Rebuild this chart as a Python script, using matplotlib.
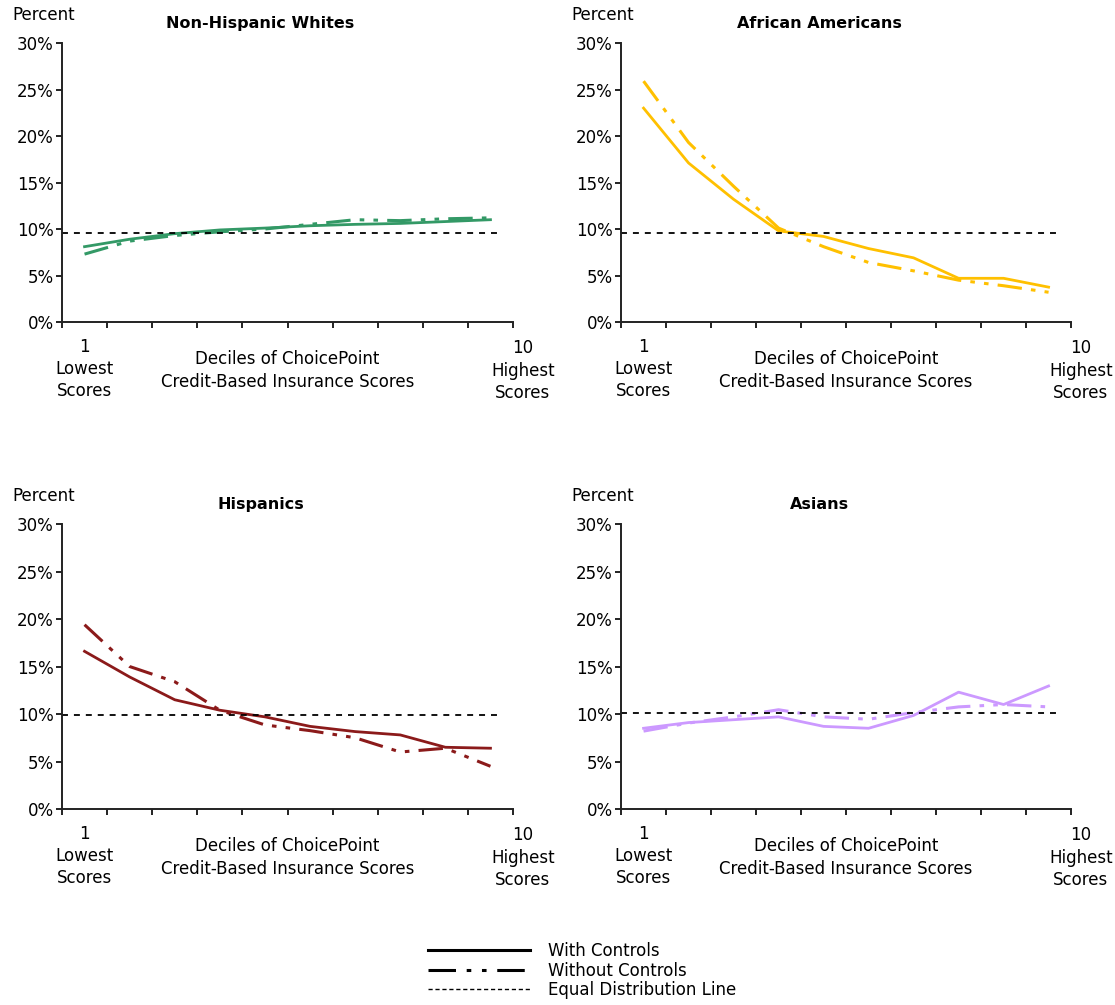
import numpy as np
import matplotlib
matplotlib.use("Agg")
from matplotlib import pyplot as plt
from matplotlib.lines import Line2D

# deciles of ChoicePoint credit-based insurance scores
deciles = np.arange(1, 11)

titles = ['Non-Hispanic Whites', 'African Americans', 'Hispanics', 'Asians']
colors = ['#339966', '#FFC000', '#8B1A1A', '#CC99FF']

# percent of each group falling in each decile
whites_with = [8.1, 8.9, 9.5, 9.9, 10.1, 10.35, 10.5, 10.6, 10.8, 11.0]
whites_without = [7.3, 8.7, 9.3, 9.7, 10.0, 10.5, 11.0, 10.9, 11.1, 11.2]
afam_with = [23.0, 17.1, 13.2, 9.8, 9.2, 7.9, 6.9, 4.7, 4.7, 3.75]
afam_without = [25.9, 19.3, 14.6, 10.1, 8.1, 6.4, 5.5, 4.5, 3.9, 3.2]
hisp_with = [16.6, 13.9, 11.5, 10.4, 9.7, 8.7, 8.15, 7.8, 6.5, 6.4]
hisp_without = [19.4, 15.0, 13.4, 10.4, 8.85, 8.25, 7.5, 6.0, 6.4, 4.5]
asian_with = [8.5, 9.1, 9.4, 9.7, 8.7, 8.5, 9.85, 12.3, 11.0, 12.95]
asian_without = [8.2, 9.05, 9.7, 10.45, 9.7, 9.45, 10.15, 10.75, 11.0, 10.75]

# equal distribution line for each group
equal_line = [9.6, 9.6, 9.9, 10.1]

with_series = [whites_with, afam_with, hisp_with, asian_with]
without_series = [whites_without, afam_without, hisp_without, asian_without]

yticks = [0, 5, 10, 15, 20, 25, 30]
ytick_labels = ['0%', '5%', '10%', '15%', '20%', '25%', '30%']

plt.rcParams['font.family'] = 'DejaVu Sans'
plt.rcParams['font.size'] = 12

dashdotdot = (0, (8, 3, 1.5, 3, 1.5, 3))
equal_dash = (0, (3.3, 3.3))

fig = plt.figure(figsize=(11.15, 10.05), dpi=100)

rects = [
    [0.0556, 0.6796, 0.4045, 0.2776],
    [0.557, 0.6796, 0.4036, 0.2776],
    [0.0556, 0.195, 0.4045, 0.2836],
    [0.557, 0.195, 0.4036, 0.2836],
]

for i in range(4):
    ax = fig.add_axes(rects[i])
    ax.plot(deciles, with_series[i], color=colors[i], lw=2, solid_joinstyle='round')
    ax.plot(deciles, without_series[i], color=colors[i], lw=2.2, linestyle=dashdotdot)
    ax.hlines(equal_line[i], 0.5, 10.2, colors='black', lw=1.3, linestyles=[equal_dash])

    ax.set_xlim(0.5, 10.5)
    ax.set_ylim(0, 30)
    ax.set_yticks(yticks)
    ax.set_yticklabels(ytick_labels)
    ax.set_xticks(np.arange(0.5, 11, 1))
    ax.set_xticklabels([])
    for s in ['top', 'right']:
        ax.spines[s].set_visible(False)
    for s in ['left', 'bottom']:
        ax.spines[s].set_linewidth(1.4)
        ax.spines[s].set_color('#222222')
    ax.tick_params(axis='both', direction='out', length=4, width=1.4, color='#222222', labelsize=12)
    ax.tick_params(axis='y', pad=2)

    ax.annotate('Percent', xy=(0, 1), xycoords='axes fraction', xytext=(-36, 20),
                textcoords='offset points', ha='left', va='center', fontsize=12)
    ax.annotate(titles[i], xy=(0.44, 1), xycoords='axes fraction', xytext=(0, 14),
                textcoords='offset points', ha='center', va='center', fontsize=11.5,
                fontweight='bold')

    tr = ('data', 'axes fraction')
    ax.annotate('1', xy=(1, 0), xycoords=tr, xytext=(0, -18), textcoords='offset points',
                ha='center', va='center', fontsize=12)
    ax.annotate('Lowest\nScores', xy=(1, 0), xycoords=tr, xytext=(0, -42),
                textcoords='offset points', ha='center', va='center', fontsize=12,
                linespacing=1.3)
    ax.annotate('10', xy=(10.72, 0), xycoords=tr, xytext=(0, -19), textcoords='offset points',
                ha='center', va='center', fontsize=12)
    ax.annotate('Highest\nScores', xy=(10.72, 0), xycoords=tr, xytext=(0, -43),
                textcoords='offset points', ha='center', va='center', fontsize=12,
                linespacing=1.3)
    ax.annotate('Deciles of ChoicePoint\nCredit-Based Insurance Scores', xy=(0.5, 0),
                xycoords='axes fraction', xytext=(0, -35), textcoords='offset points',
                ha='center', va='center', fontsize=12, linespacing=1.4)

handles = [
    Line2D([], [], color='black', lw=2.2),
    Line2D([], [], color='black', lw=2.2, linestyle=(0, (9, 3.5, 1.5, 3.5, 1.5, 3.5))),
    Line2D([], [], color='black', lw=1, linestyle=(0, (3, 2))),
]
labels = ['With Controls', 'Without Controls', 'Equal Distribution Line']
fig.legend(handles, labels, loc='upper left', bbox_to_anchor=(0.384, 0.0627),
           frameon=False, borderpad=0, borderaxespad=0, handlelength=6.1,
           handletextpad=1.1, labelspacing=0.1, fontsize=12)

fig.savefig('out.png', dpi=100)
